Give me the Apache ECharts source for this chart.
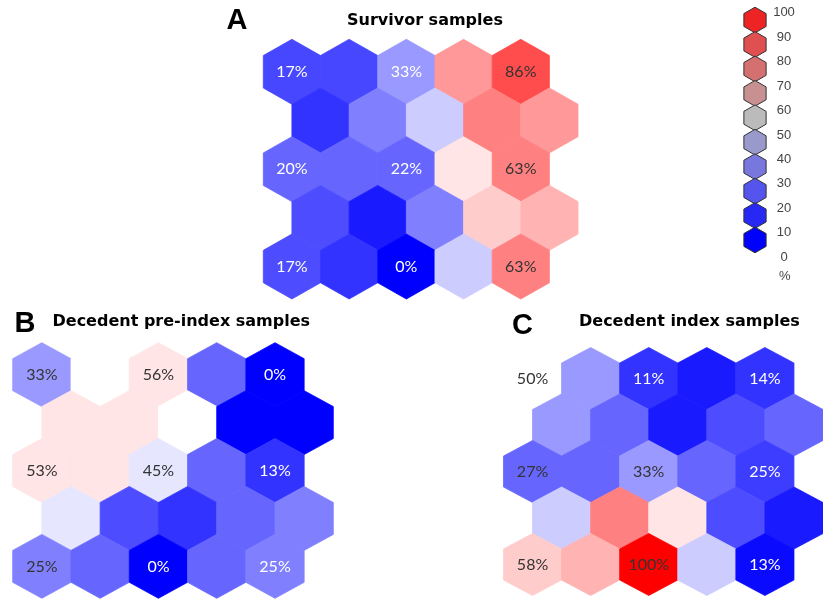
<!DOCTYPE html>
<html><head><meta charset="utf-8">
<script src="https://cdn.jsdelivr.net/npm/echarts@6/dist/echarts.min.js"></script>
<style>html,body{margin:0;padding:0;background:#fff}#c{width:823px;height:600px}</style>
</head><body><div id="c"></div>
<script>
// ---------------- DATA ----------------
// Node fill level (% scale, read from the node colour); rows top -> bottom, 5 nodes per row
const survivorFill = [
  [14, 14, 30, 70, 85],
  [10, 25, 40, 75, 70],
  [20, 20, 20, 55, 75],
  [15,  5, 25, 60, 65],
  [15, 10,  0, 40, 75]
];
const survivorLabels = [
  [17, null, 33, null, 86],
  [null, null, null, null, null],
  [20, null, 22, null, 63],
  [null, null, null, null, null],
  [17, null, 0, null, 63]
];
const preIndexFill = [
  [30, 50, 55, 20,  0],
  [55, 55, 50,  0,  0],
  [55, 55, 45, 20, 10],
  [45, 15, 10, 20, 25],
  [25, 20,  0, 20, 25]
];
const preIndexLabels = [
  [33, null, 56, null, 0],
  [null, null, null, null, null],
  [53, null, 45, null, 13],
  [null, null, null, null, null],
  [25, null, 0, null, 25]
];
const indexFill = [
  [50, 30, 10,  5, 10],
  [30, 20,  5, 15, 20],
  [20, 20, 30, 20, 12],
  [40, 75, 55, 15,  5],
  [60, 65, 100, 40, 2]
];
const indexLabels = [
  [50, null, 11, null, 14],
  [null, null, null, null, null],
  [27, null, 33, null, 25],
  [null, null, null, null, null],
  [58, null, 100, null, 13]
];
const panelTitles = ['Survivor samples', 'Decedent pre-index samples', 'Decedent index samples'];
const panelLetters = ['A', 'B', 'C'];
const legendBins = [100, 90, 80, 70, 60, 50, 40, 30, 20, 10];
const legendTicks = [0, 10, 20, 30, 40, 50, 60, 70, 80, 90, 100];
const legendUnit = '%';

// ---------------- STYLE / LAYOUT ----------------
const darkLabelNodes = [
  ['0,4', '2,4', '4,4'],
  ['0,0', '0,2', '2,0', '2,2', '4,0'],
  ['0,0', '2,0', '2,2', '4,0', '4,2']
];
const panelGrids = [
  {left: 263.3, top: 39.3, width: 314.7, height: 259.7},
  {left: 12.7, top: 342.7, width: 320.6, height: 255.6},
  {left: 503.5, top: 347.5, width: 320.7, height: 248}
];
const legendGrid = {left: 744, top: 7.8, width: 22, height: 244.4};
const legendColors = ['#0000ff', '#2828f5', '#5555ee', '#7777dd', '#9999cc', '#bbbbbb', '#c89090', '#d47070', '#e05050', '#ee2424'];
const titleFont = 'DejaVu Sans';
const letterFont = 'Liberation Sans';

function hexPoints(c, hw, r) {
  return [
    [c[0], c[1] - r], [c[0] + hw, c[1] - r / 2], [c[0] + hw, c[1] + r / 2],
    [c[0], c[1] + r], [c[0] - hw, c[1] + r / 2], [c[0] - hw, c[1] - r / 2]
  ];
}

function buildData(fill, labels, darkSet) {
  const out = [];
  fill.forEach((row, r) => {
    row.forEach((v, col) => {
      const lab = labels[r][col];
      out.push([col + (r % 2 ? 0.5 : 0), r, v, lab === null ? '' : lab + '%', darkSet.indexOf(r + ',' + col) >= 0 ? 1 : 0]);
    });
  });
  return out;
}

function nodeRender(params, api) {
  const c = api.coord([api.value(0), api.value(1)]);
  const sx = api.size([1, 0])[0];
  const sy = api.size([0, 1])[1];
  const color = api.visual('color');
  const children = [{
    type: 'polygon',
    shape: {points: hexPoints(c, sx / 2, sy * 2 / 3)},
    style: {fill: color, stroke: color, lineWidth: 0.8}
  }];
  const txt = api.value(3);
  if (txt) {
    children.push({
      type: 'text', x: c[0], y: c[1],
      style: {
        text: txt, fill: api.value(4) ? '#333333' : '#ffffff',
        font: '16px Lato', textAlign: 'center', textVerticalAlign: 'middle',
        align: 'center', verticalAlign: 'middle'
      }
    });
  }
  return {type: 'group', children};
}

function legendRender(params, api) {
  const c = api.coord([api.value(0), api.value(1)]);
  const step = Math.abs(api.size([0, 10])[1]);
  const r = step * 0.525;
  return {
    type: 'polygon',
    shape: {points: hexPoints(c, r * 0.866, r)},
    style: {fill: api.visual('color'), stroke: '#333333', lineWidth: 1}
  };
}

const fills = [survivorFill, preIndexFill, indexFill];
const labs = [survivorLabels, preIndexLabels, indexLabels];

const grids = panelGrids.concat([legendGrid]);
const xAxes = [], yAxes = [], series = [];
panelGrids.forEach((g, i) => {
  xAxes.push({gridIndex: i, type: 'value', min: -0.5, max: 5, show: false});
  yAxes.push({gridIndex: i, type: 'value', min: -2 / 3, max: 14 / 3, inverse: true, show: false});
  series.push({
    type: 'custom', xAxisIndex: i, yAxisIndex: i, renderItem: nodeRender,
    data: buildData(fills[i], labs[i], darkLabelNodes[i]),
    encode: {x: 0, y: 1}, silent: true, animation: false
  });
});
xAxes.push({gridIndex: 3, type: 'value', min: -1, max: 1, show: false});
yAxes.push({
  gridIndex: 3, type: 'value', min: 0, max: 100, position: 'right',
  axisLine: {show: false}, axisTick: {show: false}, splitLine: {show: false},
  axisLabel: {
    customValues: legendTicks, margin: 18, align: 'center', verticalAlign: 'top',
    lineHeight: 10, color: '#444444', fontFamily: 'Liberation Sans', fontSize: 13
  }
});
series.push({
  type: 'custom', xAxisIndex: 3, yAxisIndex: 3, renderItem: legendRender,
  data: legendBins.map(b => [0, b - 5, b]), encode: {x: 0, y: 1}, silent: true, animation: false
});

const titles = [
  {text: panelLetters[0], left: 226.5, top: 6, textStyle: {fontFamily: letterFont, fontWeight: 'bold', fontSize: 29, color: '#000'}},
  {text: panelLetters[1], left: 14.5, top: 309.5, textStyle: {fontFamily: letterFont, fontWeight: 'bold', fontSize: 29, color: '#000'}},
  {text: panelLetters[2], left: 512, top: 311, textStyle: {fontFamily: letterFont, fontWeight: 'bold', fontSize: 29, color: '#000'}},
  {text: panelTitles[0], left: 347, top: 12.5, textStyle: {fontFamily: titleFont, fontWeight: 'bold', fontSize: 16, color: '#000'}},
  {text: panelTitles[1], left: 52.5, top: 314, textStyle: {fontFamily: titleFont, fontWeight: 'bold', fontSize: 16, color: '#000'}},
  {text: panelTitles[2], left: 579, top: 314, textStyle: {fontFamily: titleFont, fontWeight: 'bold', fontSize: 16, color: '#000'}},
  {text: legendUnit, left: 779, top: 270, textStyle: {fontFamily: 'Liberation Sans', fontWeight: 'normal', fontSize: 13, color: '#444444'}}
].map(t => Object.assign({padding: 0}, t));

const chart = echarts.init(document.getElementById('c'), null, {renderer: 'canvas'});
chart.setOption({
  animation: false,
  backgroundColor: '#ffffff',
  title: titles,
  grid: grids,
  xAxis: xAxes,
  yAxis: yAxes,
  visualMap: [
    {type: 'continuous', show: false, min: 0, max: 100, dimension: 2, seriesIndex: [0, 1, 2],
     inRange: {color: ['#0000ff', '#ffffff', '#ff0000']}},
    {type: 'continuous', show: false, min: 10, max: 100, dimension: 2, seriesIndex: [3],
     inRange: {color: legendColors}}
  ],
  series: series
});
</script></body></html>
